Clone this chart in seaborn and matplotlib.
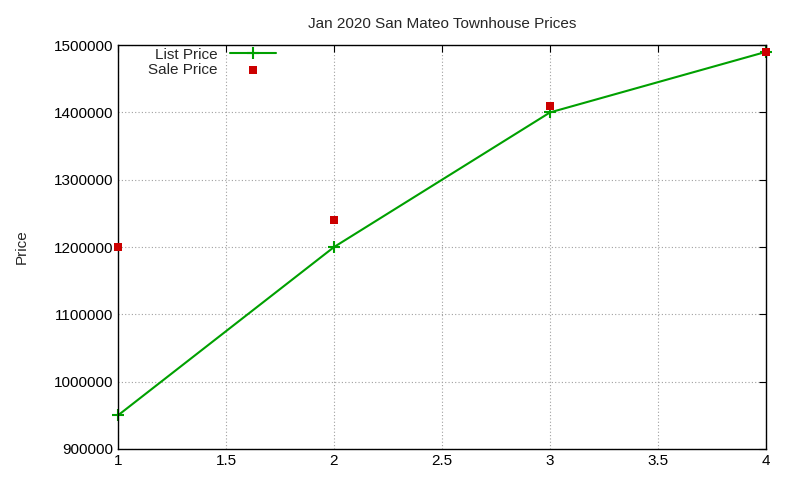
import matplotlib
matplotlib.use("Agg")
import matplotlib.pyplot as plt
import seaborn as sns
import pandas as pd

x = [1, 2, 3, 4]
list_price = [950000, 1200000, 1400000, 1490000]
sale_price = [1200000, 1240000, 1410000, 1490000]

sns.set_style("white")
plt.rcParams['font.family'] = ['Liberation Sans', 'DejaVu Sans']
fig = plt.figure(figsize=(8, 4.8), dpi=100)
ax = fig.add_axes([0.1475, 0.0646, 0.81, 0.8414])
df = pd.DataFrame({"x": x, "list": list_price, "sale": sale_price})
sns.lineplot(data=df, x="x", y="list", ax=ax, color="#00a000", marker="+", markersize=8,
             markeredgewidth=1.5, markeredgecolor="#00a000", linewidth=1.5,
             label="List Price", clip_on=False)
sns.scatterplot(data=df, x="x", y="sale", ax=ax, color="#cc0000", marker="s", s=40,
                edgecolor="#cc0000", linewidth=0, label="Sale Price", zorder=5, clip_on=False)
ax.set_xlim(1, 4)
ax.set_ylim(900000, 1500000)
ax.set_xticks([1, 1.5, 2, 2.5, 3, 3.5, 4])
ax.set_xticklabels(["1", "1.5", "2", "2.5", "3", "3.5", "4"])
ax.set_yticks(range(900000, 1500001, 100000))
ax.ticklabel_format(axis="y", style="plain")
ax.grid(True, color="#a0a0a0", linestyle=(0, (1, 2)), linewidth=0.8)
for s in ax.spines.values():
    s.set_color("black"); s.set_linewidth(1)
ax.tick_params(direction="in", length=5, labelsize=11, top=True, right=True, colors="black")
ax.set_xlabel("")
ax.set_ylabel("Price", fontsize=11, labelpad=18)
ax.set_title("Jan 2020 San Mateo Townhouse Prices", fontsize=11, pad=12)
ax.legend(loc="upper left", markerfirst=False, frameon=False, fontsize=11,
          bbox_to_anchor=(0.03, 1.02), handlelength=3, borderaxespad=0.3, labelspacing=0.1)
fig.savefig("out.png", dpi=100)
